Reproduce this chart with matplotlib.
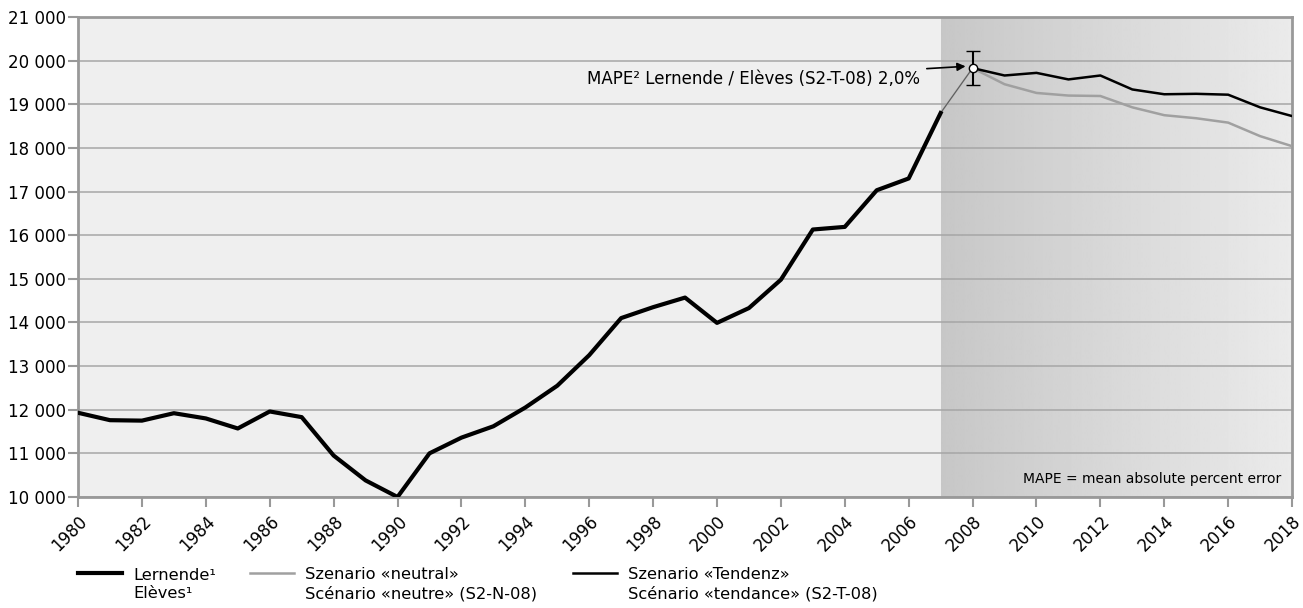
import numpy as np
import matplotlib
matplotlib.use('Agg')
import matplotlib.pyplot as plt
from matplotlib.lines import Line2D

# Lernende / Elèves 1980-2007
years = list(range(1980, 2008))
lernende = [11930, 11760, 11750, 11920, 11800, 11570, 11960, 11830, 10950, 10380,
            10000, 11000, 11360, 11620, 12050, 12550, 13250, 14100, 14350, 14570,
            13990, 14330, 14980, 16130, 16190, 17030, 17300, 18800]

# scenarios 2008-2018
scen_years = list(range(2008, 2019))
tendenz = [19830, 19660, 19720, 19570, 19660, 19340, 19230, 19240, 19220, 18930, 18730]
neutral = [19830, 19460, 19260, 19200, 19190, 18930, 18750, 18680, 18580, 18270, 18040]

mape = 2.0
y_ticks = list(range(10000, 21001, 1000))
x_ticks = list(range(1980, 2019, 2))

plt.rcParams['font.family'] = ['DejaVu Sans']
fig = plt.figure(figsize=(13.03, 6.08), dpi=100)
ax = fig.add_axes([0.0599, 0.1826, 0.9317, 0.7894])

ax.set_xlim(1980, 2018)
ax.set_ylim(10000, 21000)
ax.set_facecolor('#efefef')

# forecast shading with gradient
grad = np.linspace(0.78, 0.92, 256).reshape(1, -1)
ax.imshow(grad, cmap='gray', vmin=0, vmax=1, aspect='auto',
          extent=[2007, 2018, 10000, 21000], zorder=0.5)

for y in y_ticks:
    ax.axhline(y, color='#a6a6a6', lw=1.1, zorder=1)

ax.plot(years, lernende, color='black', lw=3, zorder=4)
ax.plot([years[-1], scen_years[0]], [lernende[-1], neutral[0]], color='#9a9a9a', lw=1.2, zorder=3)
ax.plot([years[-1], scen_years[0]], [lernende[-1], tendenz[0]], color='#555555', lw=0.6, zorder=3)
ax.plot(scen_years, neutral, color='#a0a0a0', lw=1.8, zorder=3)
ax.plot(scen_years, tendenz, color='black', lw=1.8, zorder=4)

err = tendenz[0] * mape / 100
ax.errorbar([scen_years[0]], [tendenz[0]], yerr=err, fmt='o', ms=6, mfc='white',
            mec='black', mew=1, ecolor='black', elinewidth=1.5, capsize=5, capthick=2, zorder=6)

ax.annotate('MAPE² Lernende / Elèves (S2-T-08) 2,0%', xy=(scen_years[0] - 0.22, tendenz[0] + 40),
            xytext=(2006.35, tendenz[0] - 250), ha='right', va='center', fontsize=12,
            arrowprops=dict(arrowstyle='-|>', color='black', lw=1.2, mutation_scale=12,
                            shrinkA=3, shrinkB=0), zorder=7)

ax.text(2017.65, 10420, 'MAPE = mean absolute percent error', ha='right', va='center', fontsize=10)

ax.set_yticks(y_ticks)
ax.set_yticklabels([f'{v:,}'.replace(',', ' ') for v in y_ticks], fontsize=12)
ax.set_xticks(x_ticks)
ax.set_xticklabels([str(v) for v in x_ticks], rotation=45, ha='right', rotation_mode='anchor', fontsize=12)
ax.tick_params(axis='both', color='#999999', width=1.5, length=7)
ax.tick_params(axis='y', pad=2)
ax.tick_params(axis='x', pad=4)
for s in ax.spines.values():
    s.set_color('#999999')
    s.set_linewidth(2)

# legend below the chart
W, H = 1303.0, 608.0
legend_items = [
    ('black', 3, 'Lernende¹\nElèves¹', 78),
    ('#a0a0a0', 1.8, 'Szenario «neutral»\nScénario «neutre» (S2-N-08)', 250),
    ('black', 1.8, 'Szenario «Tendenz»\nScénario «tendance» (S2-T-08)', 573),
]
for color, lw, label, x0 in legend_items:
    yl = 1 - 573 / H
    fig.add_artist(Line2D([x0 / W, (x0 + 44) / W], [yl, yl], color=color, lw=lw,
                          transform=fig.transFigure))
    fig.text((x0 + 55) / W, 1 - 584.5 / H, label, ha='left', va='center', fontsize=11.7,
             linespacing=1.3)

fig.savefig('out.png', dpi=100)
